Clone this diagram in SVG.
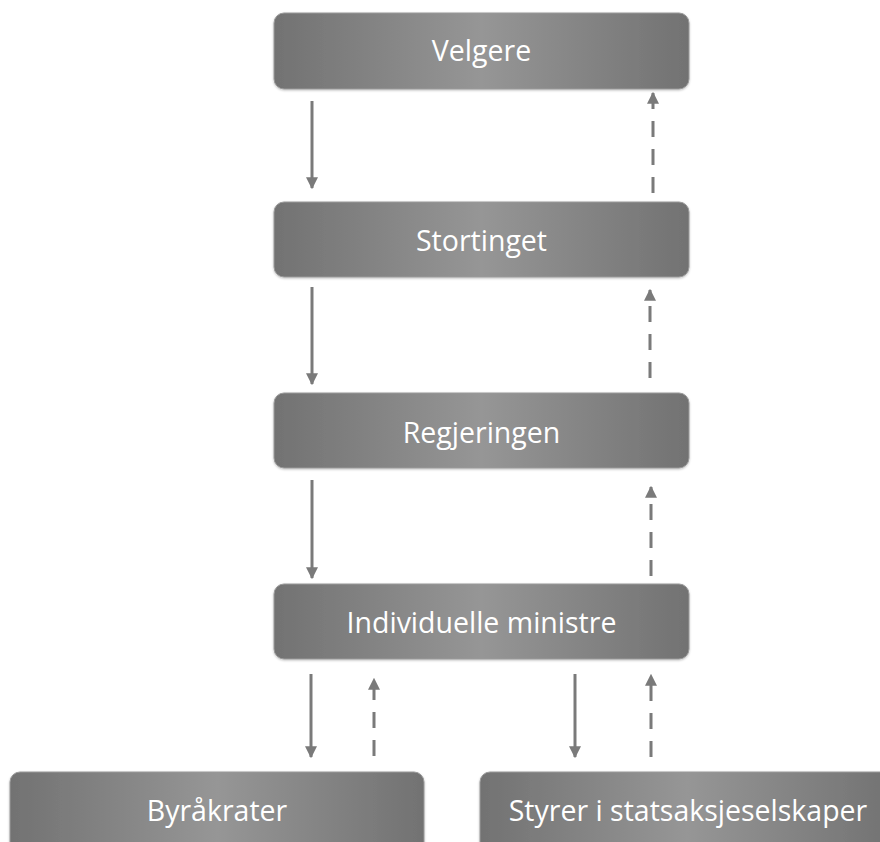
<svg xmlns="http://www.w3.org/2000/svg" width="880" height="842" viewBox="0 0 880 842">
<defs>
<linearGradient id="g" x1="0" y1="0" x2="1" y2="0">
<stop offset="0" stop-color="#727272"/>
<stop offset="0.5" stop-color="#969696"/>
<stop offset="1" stop-color="#727272"/>
</linearGradient>
<marker id="ah" viewBox="0 0 10 10" refX="9" refY="5" markerWidth="4" markerHeight="4" orient="auto" markerUnits="strokeWidth">
<path d="M0,0 L10,5 L0,10 z" fill="#7a7a7a"/>
</marker>
<filter id="sh" x="-5%" y="-10%" width="110%" height="130%">
<feDropShadow dx="0" dy="1" stdDeviation="1" flood-color="#000" flood-opacity="0.25"/>
</filter>
</defs>
<style>
.box{fill:url(#g);stroke:#9a9a9a;stroke-width:1;filter:url(#sh)}
.lbl{font-family:"Open Sans","Noto Sans",sans-serif;font-size:28.5px;fill:#fff;text-anchor:middle;dominant-baseline:central}
.solid{stroke:#7a7a7a;stroke-width:3;fill:none;marker-end:url(#ah)}
.dash{stroke:#7a7a7a;stroke-width:3;fill:none;stroke-dasharray:16 12;marker-end:url(#ah)}
</style>
<rect width="880" height="842" fill="#fff"/>
<g id="velgere"><rect class="box" x="274" y="13" width="415" height="76" rx="10"/><text class="lbl" x="481.5" y="50">Velgere</text></g>
<g id="stortinget"><rect class="box" x="274" y="202" width="415" height="75" rx="10"/><text class="lbl" x="481.5" y="240">Stortinget</text></g>
<g id="regjeringen"><rect class="box" x="274" y="393" width="415" height="75" rx="10"/><text class="lbl" x="481.5" y="432">Regjeringen</text></g>
<g id="ministre"><rect class="box" x="274" y="584" width="415" height="75" rx="10"/><text class="lbl" x="481.5" y="622">Individuelle ministre</text></g>
<g id="byrakrater"><rect class="box" x="10" y="772" width="414" height="90" rx="10"/><text class="lbl" x="217" y="810">Byråkrater</text></g>
<g id="styrer"><rect class="box" x="480" y="772" width="414" height="90" rx="10"/><text class="lbl" x="688" y="810">Styrer i statsaksjeselskaper</text></g>
<g id="connectors">
<line class="solid" x1="312" y1="101" x2="312" y2="188"/>
<line class="dash" x1="653" y1="193" x2="653" y2="93"/>
<line class="solid" x1="312" y1="287" x2="312" y2="384"/>
<line class="dash" x1="650" y1="378" x2="650" y2="290"/>
<line class="solid" x1="312" y1="480" x2="312" y2="578"/>
<line class="dash" x1="651" y1="576" x2="651" y2="487"/>
<line class="solid" x1="311" y1="674" x2="311" y2="757"/>
<line class="dash" x1="374" y1="756" x2="374" y2="679"/>
<line class="solid" x1="575" y1="674" x2="575" y2="757"/>
<line class="dash" x1="651" y1="757" x2="651" y2="675"/>
</g>
</svg>
